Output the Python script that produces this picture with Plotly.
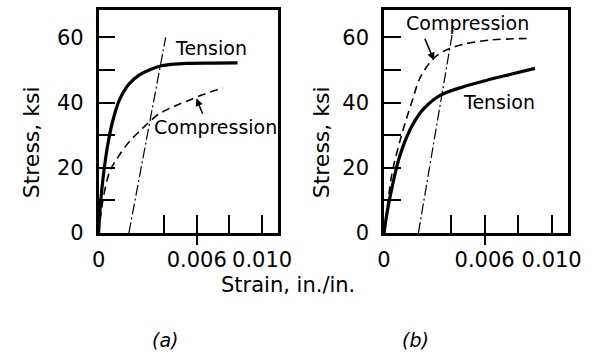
import plotly.graph_objects as go

# ---- data (strain in in./in., stress in ksi) ----
a_tension_strain = [0, 0.00004, 0.0001, 0.0003, 0.00059, 0.00089, 0.00128, 0.00187, 0.0025, 0.0031, 0.00385, 0.0054, 0.0070, 0.0085]
a_tension_stress = [0, 4, 8.2, 18.1, 28, 34.9, 40.9, 45.8, 48.5, 50, 51.3, 52.0, 52.1, 52.2]
a_comp_strain = [0, 0.00012, 0.0003, 0.00069, 0.00128, 0.00187, 0.00266, 0.00365, 0.00463, 0.00562, 0.0064, 0.0076]
a_comp_stress = [0, 5, 11.2, 19.1, 24, 28, 32, 36.4, 38.9, 40.9, 42.5, 44.5]
a_offset_strain = [0.00185, 0.0041]
a_offset_stress = [0, 60]

b_tension_strain = [0, 0.00019, 0.00058, 0.00087, 0.00135, 0.00183, 0.0024, 0.00337, 0.0047, 0.0061, 0.0075, 0.009]
b_tension_stress = [0, 6.5, 16.4, 22.4, 29.4, 34.3, 38.3, 42.3, 44.8, 46.8, 48.6, 50.5]
b_comp_strain = [0, 0.00022, 0.00048, 0.00096, 0.00135, 0.00173, 0.00212, 0.0029, 0.00365, 0.0048, 0.00635, 0.00875]
b_comp_stress = [0, 9, 18.4, 28.4, 35.3, 41.3, 47.3, 53.3, 56, 58, 59.2, 59.7]
b_offset_strain = [0.00205, 0.00415]
b_offset_stress = [0, 63.5]

x_tickvals = [0, 0.004, 0.006, 0.008, 0.010]
x_ticktext = ["0", "", "0.006", "", "0.010"]
y_tickvals = [0, 10, 20, 30, 40, 50, 60]
y_ticktext = ["0", "", "20", "", "40", "", "60"]

FONT = "DejaVu Sans"
X_RANGE = [0, 0.011]
Y_RANGE = [0, 68.5]

fig = go.Figure()

def add_panel(xa, ya, ts, tv, cs, cv, os_, ov):
    fig.add_trace(go.Scatter(x=os_, y=ov, mode="lines", xaxis=xa, yaxis=ya,
                             line=dict(color="black", width=1.2, dash="11px,3px,2px,3px"),
                             showlegend=False, hoverinfo="skip"))
    fig.add_trace(go.Scatter(x=cs, y=cv, mode="lines", xaxis=xa, yaxis=ya,
                             line=dict(color="black", width=1.6, dash="8px,5px", shape="spline", smoothing=0.8),
                             showlegend=False, hoverinfo="skip"))
    fig.add_trace(go.Scatter(x=ts, y=tv, mode="lines", xaxis=xa, yaxis=ya,
                             line=dict(color="black", width=3.2, shape="spline", smoothing=0.8),
                             showlegend=False, hoverinfo="skip"))

add_panel("x", "y", a_tension_strain, a_tension_stress, a_comp_strain, a_comp_stress,
          a_offset_strain, a_offset_stress)
add_panel("x2", "y2", b_tension_strain, b_tension_stress, b_comp_strain, b_comp_stress,
          b_offset_strain, b_offset_stress)
fig.add_trace(go.Scatter(x=[], y=[], xaxis="x3", yaxis="y", showlegend=False))
fig.add_trace(go.Scatter(x=[], y=[], xaxis="x4", yaxis="y2", showlegend=False))

def xaxis(domain, anchor):
    return dict(domain=domain, anchor=anchor, range=X_RANGE, showgrid=False, zeroline=False,
                showline=True, linecolor="black", linewidth=2.5, mirror=True,
                tickvals=x_tickvals, ticktext=x_ticktext, ticks="inside", ticklen=18,
                tickwidth=1.5, tickcolor="black", ticklabelstandoff=6,
                tickfont=dict(family=FONT, size=21, color="black"))

def yaxis(domain, anchor):
    return dict(domain=domain, anchor=anchor, range=Y_RANGE, showgrid=False, zeroline=False,
                showline=True, linecolor="black", linewidth=2.5, mirror=True,
                tickvals=y_tickvals, ticktext=y_ticktext, ticks="inside", ticklen=17,
                tickwidth=1.5, tickcolor="black", ticklabelstandoff=8,
                tickfont=dict(family=FONT, size=21, color="black"))

def overlay(over, anchor):
    return dict(overlaying=over, anchor=anchor, range=X_RANGE, showgrid=False, zeroline=False,
                showline=False, tickvals=[0.006], ticks="outside", ticklen=11, tickwidth=1.5,
                tickcolor="black", showticklabels=False)

YDOM = [0.336, 0.9725]
fig.update_layout(
    width=600, height=363,
    margin=dict(l=0, r=0, t=0, b=0),
    paper_bgcolor="white", plot_bgcolor="white",
    font=dict(family=FONT, color="black"),
    xaxis=xaxis([0.158, 0.468], "y"),
    yaxis=yaxis(YDOM, "x"),
    xaxis2=xaxis([0.65, 0.968], "y2"),
    yaxis2=yaxis(YDOM, "x2"),
    xaxis3=overlay("x", "y"),
    xaxis4=overlay("x2", "y2"),
)

lab = dict(family=FONT, size=19, color="black")
C = dict(xanchor="center", yanchor="middle", showarrow=False)
ann = [
    dict(x=0.0069, y=56.6, xref="x", yref="y", text="Tension", font=lab, **C),
    dict(x=0.00715, y=32.4, xref="x", yref="y", text="Compression", font=lab, **C),
    dict(x=0.00598, y=41.3, ax=0.0064, ay=36.1, xref="x", yref="y", axref="x", ayref="y",
         text="", showarrow=True, arrowhead=2, arrowsize=1, arrowwidth=1.5, arrowcolor="black"),
    dict(x=0.00687, y=40.3, xref="x2", yref="y2", text="Tension", font=lab, **C),
    dict(x=0.0050, y=64.5, xref="x2", yref="y2", text="Compression", font=lab, **C),
    dict(x=0.00298, y=53, ax=0.0024, ay=60, xref="x2", yref="y2", axref="x2", ayref="y2",
         text="", showarrow=True, arrowhead=2, arrowsize=1, arrowwidth=1.5, arrowcolor="black"),
    dict(x=25 / 600, y=1 - 147 / 363, xref="paper", yref="paper", text="Stress, ksi",
         textangle=-90, font=dict(family=FONT, size=22, color="black"), **C),
    dict(x=325 / 600, y=1 - 147 / 363, xref="paper", yref="paper", text="Stress, ksi",
         textangle=-90, font=dict(family=FONT, size=22, color="black"), **C),
    dict(x=291 / 600, y=1 - 295 / 363, xref="paper", yref="paper", text="Strain, in./in.",
         font=dict(family=FONT, size=21, color="black"), **C),
    dict(x=163 / 600, y=1 - 352 / 363, xref="paper", yref="paper", text="<i>(a)</i>",
         font=dict(family=FONT, size=19, color="black"), **C),
    dict(x=423 / 600, y=1 - 352 / 363, xref="paper", yref="paper", text="<i>(b)</i>",
         font=dict(family=FONT, size=19, color="black"), **C),
]
fig.update_layout(annotations=ann)

fig.write_html("out.html")
